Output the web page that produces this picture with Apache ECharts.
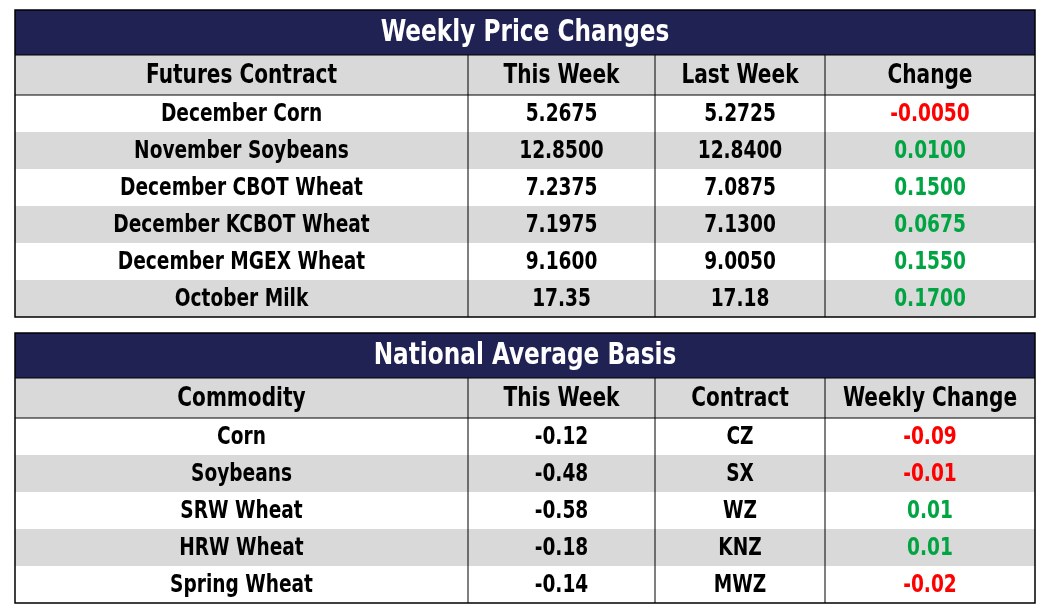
<!DOCTYPE html>
<html>
<head>
<meta charset="utf-8">
<script src="https://cdn.jsdelivr.net/npm/echarts@6/dist/echarts.min.js"></script>
<style>html,body{margin:0;padding:0;background:#fff}#main{width:1050px;height:615px}</style>
</head>
<body>
<div id="main"></div>
<script>
// table 1 data
let priceTitle = 'Weekly Price Changes';
let priceHeaders = ['Futures Contract', 'This Week', 'Last Week', 'Change'];
let priceContracts = ['December Corn', 'November Soybeans', 'December CBOT Wheat', 'December KCBOT Wheat', 'December MGEX Wheat', 'October Milk'];
let priceThisWeek = ['5.2675', '12.8500', '7.2375', '7.1975', '9.1600', '17.35'];
let priceLastWeek = ['5.2725', '12.8400', '7.0875', '7.1300', '9.0050', '17.18'];
let priceChange = ['-0.0050', '0.0100', '0.1500', '0.0675', '0.1550', '0.1700'];

// table 2 data
let basisTitle = 'National Average Basis';
let basisHeaders = ['Commodity', 'This Week', 'Contract', 'Weekly Change'];
let basisCommodity = ['Corn', 'Soybeans', 'SRW Wheat', 'HRW Wheat', 'Spring Wheat'];
let basisThisWeek = ['-0.12', '-0.48', '-0.58', '-0.18', '-0.14'];
let basisContract = ['CZ', 'SX', 'WZ', 'KNZ', 'MWZ'];
let basisChange = ['-0.09', '-0.01', '0.01', '0.01', '-0.02'];

const FONT = '"DejaVu Sans Condensed", "Liberation Sans", sans-serif';
const colX = [15, 468, 655, 825, 1035];
const NAVY = '#1f2253', GRAY = '#d9d9d9';

function txt(x, y, s, color, size) {
    // narrow the text a bit to look like the condensed face of the original
    return {type: 'text', x: x, y: y, scaleX: 0.86,
        style: {text: s, fill: color, font: 'bold ' + size + 'px ' + FONT, align: 'center', verticalAlign: 'middle'}};
}

function buildTable(top, title, headers, cols) {
    let els = [];
    let w = colX[4] - colX[0];
    let titleH = 45, headH = 40, rowH = 37;
    els.push({type: 'rect', shape: {x: colX[0], y: top, width: w, height: titleH}, style: {fill: NAVY}});
    els.push(txt((colX[0] + colX[4]) / 2, top + titleH / 2 + 1, title, '#fff', 30));
    let y = top + titleH;
    els.push({type: 'rect', shape: {x: colX[0], y: y, width: w, height: headH}, style: {fill: GRAY}});
    headers.forEach((h, i) => {
        els.push(txt((colX[i] + colX[i + 1]) / 2, y + headH / 2 + 1, h, '#000', 26));
    });
    let lines = [];
    y += headH;
    let n = cols[0].length;
    for (let r = 0; r < n; r++) {
        let ry = y + r * rowH;
        els.push({type: 'rect', shape: {x: colX[0], y: ry, width: w, height: rowH}, style: {fill: r % 2 ? GRAY : '#fff'}});
        cols.forEach((c, i) => {
            let v = c[r];
            let color = '#000';
            if (i === 3) color = v.charAt(0) === '-' ? '#ff0000' : '#00a442';
            els.push(txt((colX[i] + colX[i + 1]) / 2, ry + rowH / 2 + 1, v, color, 24));
        });
    }
    let bottom = y + n * rowH;
    // borders
    [1, 2, 3].forEach(i => lines.push([colX[i], top + titleH, colX[i], bottom]));
    lines.push([colX[0], top + titleH, colX[4], top + titleH]);
    lines.push([colX[0], y, colX[4], y]);
    lines.forEach(l => els.push({type: 'line', shape: {x1: l[0], y1: l[1], x2: l[2], y2: l[3]}, style: {stroke: '#000', lineWidth: 1}}));
    els.push({type: 'rect', shape: {x: colX[0], y: top, width: w, height: bottom - top}, style: {fill: null, stroke: '#000', lineWidth: 1.5}});
    return els;
}

let myChart = echarts.init(document.getElementById('main'));
let graphics = buildTable(10, priceTitle, priceHeaders, [priceContracts, priceThisWeek, priceLastWeek, priceChange])
    .concat(buildTable(333, basisTitle, basisHeaders, [basisCommodity, basisThisWeek, basisContract, basisChange]));
myChart.setOption({graphic: {elements: graphics}});
</script>
</body>
</html>
